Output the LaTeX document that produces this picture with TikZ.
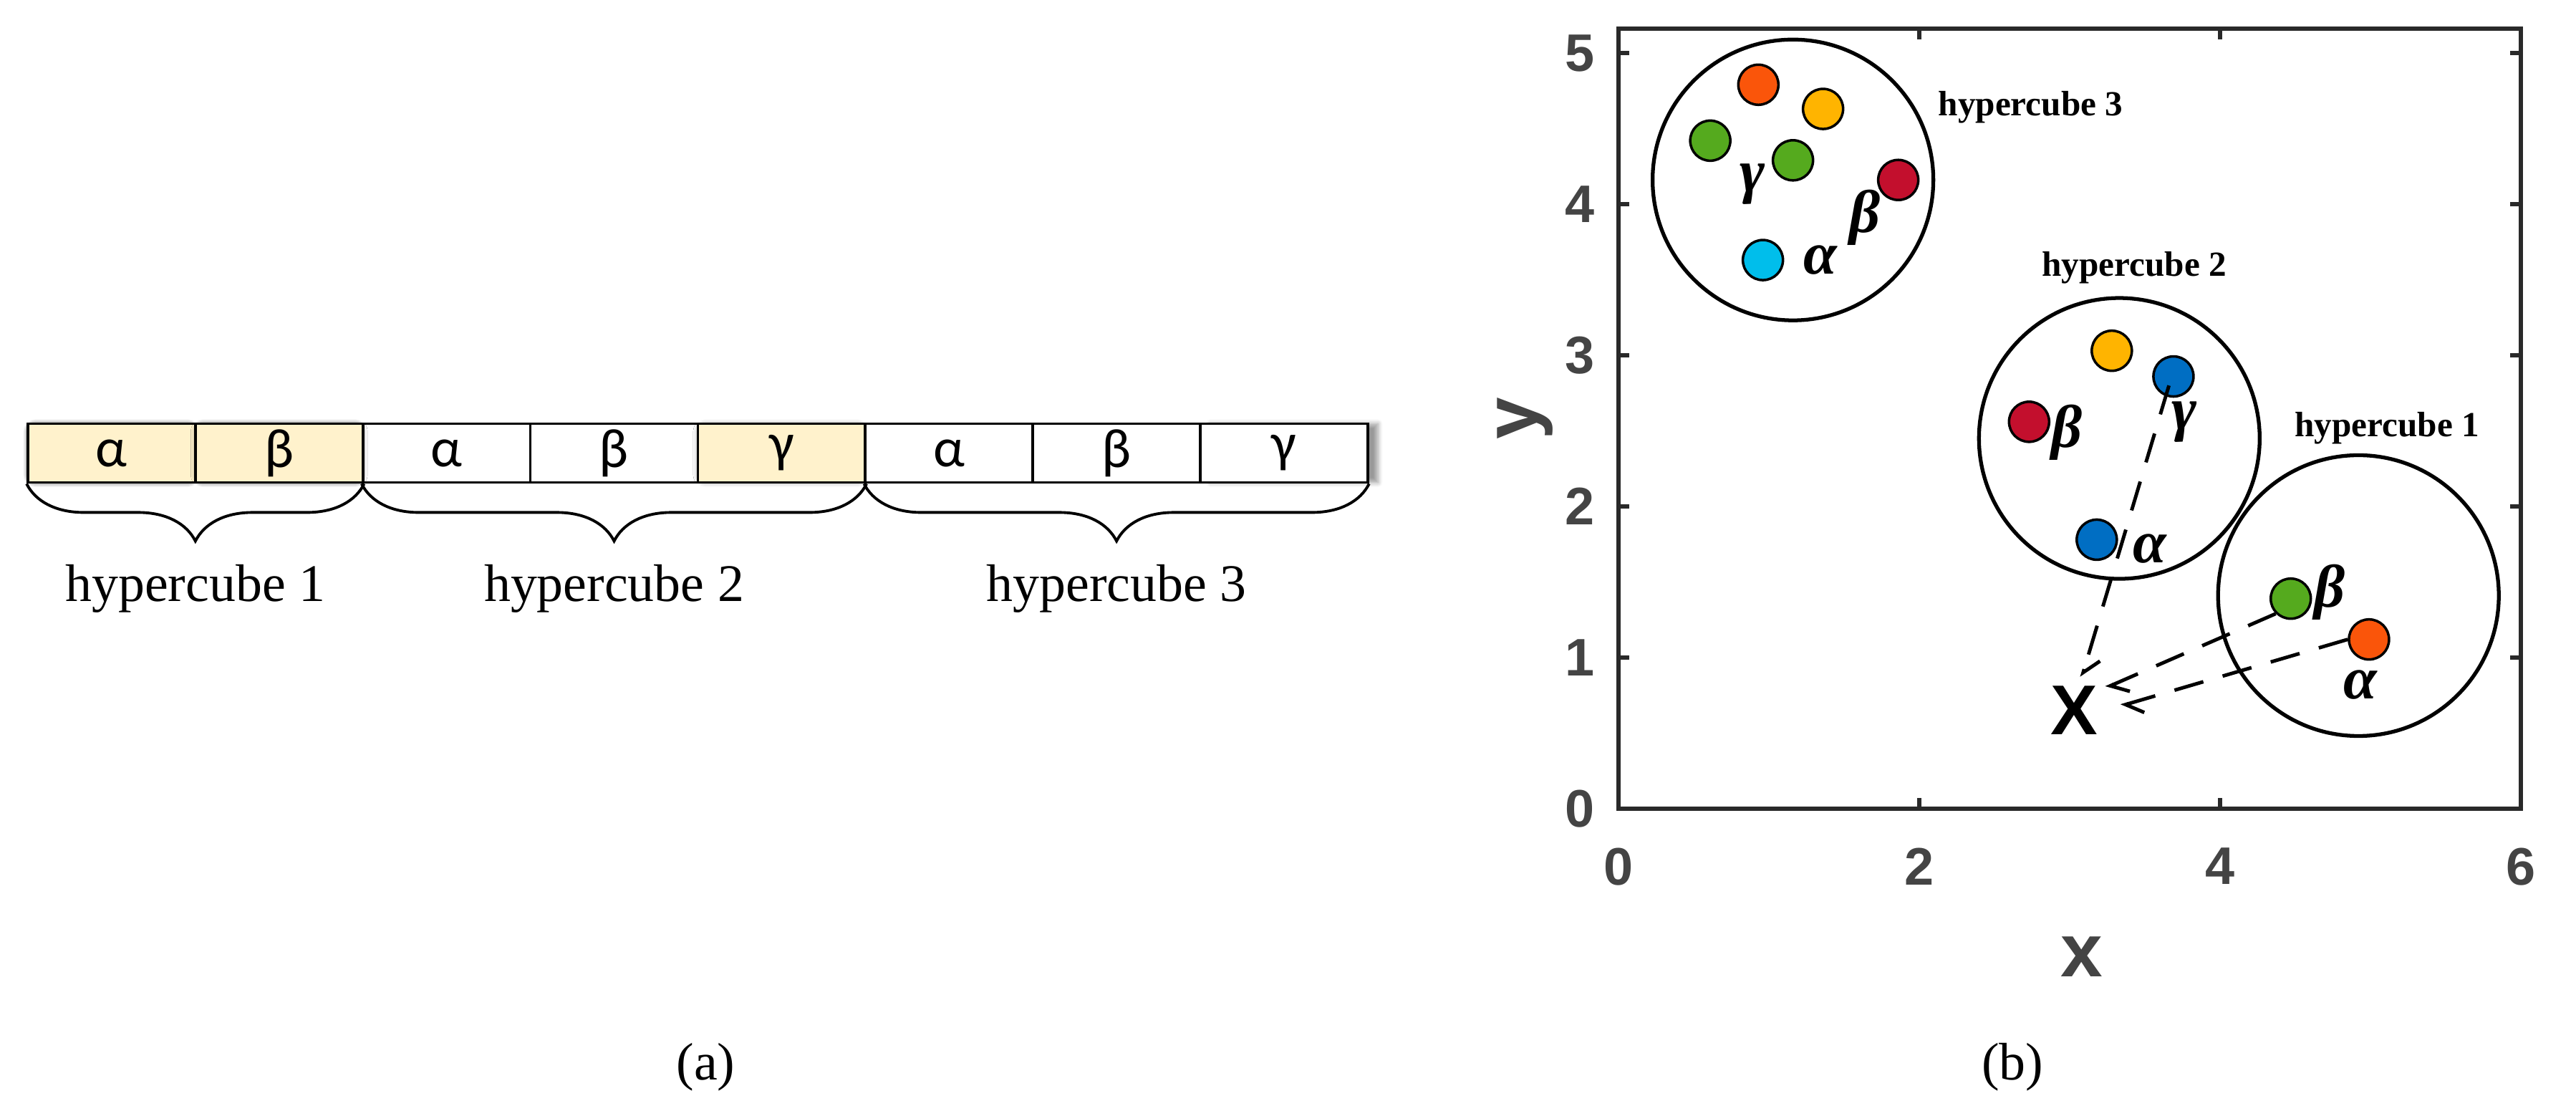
\documentclass[tikz,border=0pt]{standalone}
\usepackage{fontspec}
\setmainfont{Liberation Serif}
\newfontfamily\cellfont{Carlito}
\newfontfamily\axfont{Liberation Sans}
\usetikzlibrary{decorations.pathreplacing,shadows.blur,arrows.meta}
\definecolor{hl}{HTML}{FFF2CC}
\definecolor{axgray}{HTML}{444444}
\tikzset{
 cell/.style={draw,line width=1pt,minimum width=2.34cm,minimum height=0.82cm,inner sep=0pt,font=\cellfont\fontsize{22}{24}\selectfont},
 hcell/.style={cell,fill=hl,blur shadow={shadow xshift=0pt,shadow yshift=0pt,shadow blur steps=6,shadow blur extra rounding=3pt}},
 brc/.style={decorate,decoration={brace,mirror,amplitude=0.8cm},line width=1.1pt},
 blab/.style={font=\fontsize{21}{24}\selectfont},
 dot/.style={circle,draw,line width=1pt,minimum size=0.56cm,inner sep=0pt},
 hc/.style={draw,line width=1.5pt,circle,minimum size=3.92cm,inner sep=0pt},
 glab/.style={font=\bfseries\itshape\fontsize{24}{26}\selectfont},
 hlab/.style={font=\bfseries\fontsize{14}{16}\selectfont},
 tick/.style={font=\axfont\bfseries\fontsize{21}{24}\selectfont,text=axgray},
 dsh/.style={dash pattern=on 0.42cm off 0.28cm,line width=1.4pt,-{Straight Barb[left,length=0.22cm,width=0.36cm]}}
}
\begin{document}
\begin{tikzpicture}
\useasboundingbox (0,0) rectangle (35.97,-15.51);
\begin{scope}[x=0.01cm,y=-0.01cm]
 \node[hcell] (c1) at (156,633) {α};
 \node[hcell] (c2) at (390,633) {β};
 \node[cell,fill=white] (c3) at (624,633) {α};
 \node[cell,fill=white] (c4) at (858,633) {β};
 \node[hcell] (c5) at (1092,633) {γ};
 \node[cell,fill=white] (c6) at (1326,633) {α};
 \node[cell,fill=white] (c7) at (1560,633) {β};
 \node[cell,fill=white,blur shadow={shadow xshift=4pt,shadow yshift=0pt,shadow blur steps=6}] (c8) at (1794,633) {γ};
 \node[hcell] at (156,633) {α};
 \node[hcell] at (390,633) {β};
 \draw[brc] (c1.south west) -- (c2.south east);
 \draw[brc] (c3.south west) -- (c5.south east);
 \draw[brc] (c6.south west) -- (c8.south east);
 \node[blab] (h1) at (273,822) {hypercube 1};
 \node[blab] (h2) at (858,822) {hypercube 2};
 \node[blab] (h3) at (1560,822) {hypercube 3};
 \node[blab] (capa) at (986,1491) {(a)};
 \node[blab] (capb) at (2812,1491) {(b)};
\end{scope}
\begin{scope}[shift={(22.60,-11.29)},x=2.10cm,y=2.11cm]
 \draw[line width=1.8pt,axgray!60!black] (0,0) rectangle (6,5.16);
 \foreach \v in {2,4}{
  \draw[line width=1.5pt,axgray!60!black] (\v,0) -- (\v,0.07) (\v,5.16) -- (\v,5.09);}
 \foreach \v in {0,2,4,6} \node[tick,anchor=north] at (\v,-0.2) {\v};
 \foreach \v in {1,...,5}{
  \draw[line width=1.5pt,axgray!60!black] (0,\v) -- (0.07,\v) (6,\v) -- (5.93,\v);}
 \foreach \v in {0,...,5} \node[tick,anchor=east] at (-0.1,\v) {\v};
 \node[font=\axfont\bfseries\fontsize{30}{32}\selectfont,text=axgray] (xl) at (3.08,-0.98) {x};
 \node[font=\axfont\bfseries\fontsize{30}{32}\selectfont,text=axgray,rotate=90] (yl) at (-0.62,2.58) {y};
 % hypercube 3
 \node[hc] (e3) at (1.16,4.16) {};
 \node[dot,fill={rgb,255:red,250;green,85;blue,10}] (p31) at (0.93,4.79) {};
 \node[dot,fill={rgb,255:red,255;green,180;blue,0}] (p32) at (1.36,4.63) {};
 \node[dot,fill={rgb,255:red,85;green,170;blue,30}] (p33) at (0.61,4.42) {};
 \node[dot,fill={rgb,255:red,85;green,170;blue,30}] (p34) at (1.16,4.29) {};
 \node[dot,fill={rgb,255:red,195;green,15;blue,45}] (p35) at (1.86,4.16) {};
 \node[dot,fill={rgb,255:red,0;green,190;blue,235}] (p36) at (0.96,3.63) {};
 \node[glab] at (0.89,4.13) {γ};
 \node[glab] at (1.64,3.91) {β};
 \node[glab] at (1.34,3.63) {α};
 \node[hlab] at (2.74,4.64) {hypercube 3};
 % hypercube 2
 \node[hc] (e2) at (3.33,2.45) {};
 \node[dot,fill={rgb,255:red,255;green,180;blue,0}] (p21) at (3.28,3.03) {};
 \node[dot,fill={rgb,255:red,0;green,110;blue,195}] (p22) at (3.69,2.86) {};
 \node[dot,fill={rgb,255:red,195;green,15;blue,45}] (p23) at (2.73,2.56) {};
 \node[dot,fill={rgb,255:red,0;green,110;blue,195}] (p24) at (3.18,1.78) {};
 \node[glab] at (2.98,2.49) {β};
 \node[glab] at (3.76,2.56) {γ};
 \node[glab] at (3.53,1.72) {α};
 \node[hlab] at (3.43,3.58) {hypercube 2};
 % hypercube 1
 \node[hc] (e1) at (4.92,1.41) {};
 \node[dot,fill={rgb,255:red,85;green,170;blue,30}] (p11) at (4.47,1.39) {};
 \node[dot,fill={rgb,255:red,250;green,85;blue,10}] (p12) at (4.99,1.12) {};
 \node[glab] at (4.73,1.43) {β};
 \node[glab] at (4.93,0.82) {α};
 \node[hlab] at (5.11,2.52) {hypercube 1};
 % query
 \node[font=\axfont\bfseries\fontsize{28}{30}\selectfont] (X) at (3.03,0.65) {X};
 \coordinate (t1) at (3.08,0.87);
 \coordinate (t2) at (3.24,0.80);
 \coordinate (t3) at (3.34,0.68);
 \draw[dsh] (p22.center) ++(-0.03,-0.06) -- (t1);
 \draw[dsh] (p11.south west) -- (t2);
 \draw[dsh] (p12.west) -- (t3);
\end{scope}
\end{tikzpicture}
\end{document}
